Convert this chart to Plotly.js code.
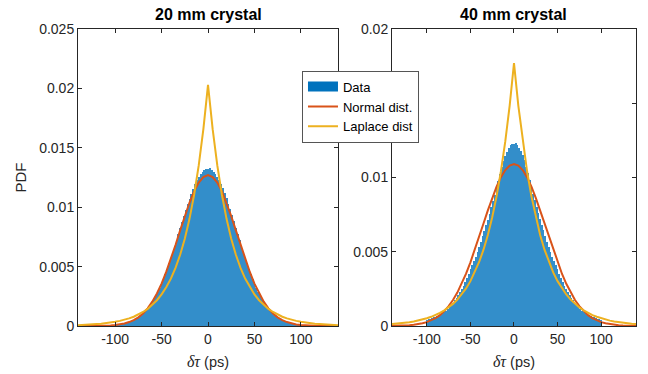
<!DOCTYPE html>
<html>
<head>
<meta charset="utf-8">
<script src="https://cdn.plot.ly/plotly-3.0.1.min.js"></script>
<style>html,body{margin:0;padding:0;background:#fff;}#chart{width:648px;height:374px;}</style>
</head>
<body>
<div id="chart"></div>
<script>
// ---------- data ----------
const panelTitles = ["20 mm crystal", "40 mm crystal"];
const legendNames = ["Data", "Normal dist.", "Laplace dist"];

// histogram bin centres (ps), 2 ps bins
const binCenters = [-100,-98,-96,-94,-92,-90,-88,-86,-84,-82,-80,-78,-76,-74,-72,-70,-68,-66,-64,-62,-60,-58,-56,-54,-52,-50,-48,-46,-44,-42,-40,-38,-36,-34,-32,-30,-28,-26,-24,-22,-20,-18,-16,-14,-12,-10,-8,-6,-4,-2,0,2,4,6,8,10,12,14,16,18,20,22,24,26,28,30,32,34,36,38,40,42,44,46,48,50,52,54,56,58,60,62,64,66,68,70,72,74,76,78,80,82,84,86,88,90,92,94,96,98,100];

const hist20 = [0.00007,0.00009,0.00011,0.00013,0.00016,0.00020,0.00023,0.00028,0.00034,0.00040,0.00047,0.00056,0.00065,0.00076,0.00089,0.00103,0.00119,0.00137,0.00157,0.00179,0.00203,0.00229,0.00258,0.00290,0.00323,0.00359,0.00398,0.00439,0.00482,0.00527,0.00574,0.00623,0.00673,0.00723,0.00775,0.00826,0.00878,0.00929,0.00978,0.01026,0.01072,0.01115,0.01155,0.01192,0.01225,0.01253,0.01279,0.01298,0.01312,0.01322,0.01318,0.01326,0.01312,0.01300,0.01281,0.01257,0.01228,0.01195,0.01158,0.01118,0.01075,0.01029,0.00981,0.00931,0.00880,0.00828,0.00777,0.00725,0.00674,0.00624,0.00575,0.00528,0.00483,0.00440,0.00399,0.00360,0.00324,0.00290,0.00259,0.00230,0.00204,0.00180,0.00158,0.00138,0.00120,0.00104,0.00090,0.00077,0.00066,0.00056,0.00047,0.00040,0.00034,0.00028,0.00023,0.00020,0.00016,0.00013,0.00011,0.00009,0.00007];

const hist40 = [0.00040,0.00044,0.00049,0.00053,0.00058,0.00063,0.00068,0.00073,0.00080,0.00087,0.00094,0.00104,0.00116,0.00128,0.00141,0.00157,0.00172,0.00189,0.00207,0.00229,0.00250,0.00272,0.00299,0.00325,0.00353,0.00382,0.00409,0.00438,0.00467,0.00500,0.00532,0.00569,0.00604,0.00643,0.00680,0.00717,0.00757,0.00799,0.00840,0.00883,0.00927,0.00975,0.01023,0.01068,0.01110,0.01145,0.01175,0.01199,0.01222,0.01228,0.01225,0.01230,0.01218,0.01200,0.01180,0.01150,0.01115,0.01074,0.01030,0.00983,0.00935,0.00890,0.00846,0.00804,0.00761,0.00720,0.00682,0.00644,0.00605,0.00569,0.00532,0.00500,0.00467,0.00438,0.00409,0.00382,0.00353,0.00325,0.00299,0.00272,0.00250,0.00229,0.00207,0.00189,0.00172,0.00157,0.00141,0.00128,0.00116,0.00104,0.00094,0.00087,0.00080,0.00073,0.00068,0.00063,0.00058,0.00053,0.00049,0.00044,0.00040];

// fitted curves sampled every 5 ps
const curveX = [-140,-135,-130,-125,-120,-115,-110,-105,-100,-95,-90,-85,-80,-75,-70,-65,-60,-55,-50,-45,-40,-35,-30,-25,-20,-15,-10,-5,0,5,10,15,20,25,30,35,40,45,50,55,60,65,70,75,80,85,90,95,100,105,110,115,120,125,130,135,140];

const normal20 = [0,0,0,0,0.00001,0.00002,0.00003,0.00005,0.00008,0.00013,0.00021,0.00033,0.00049,0.00073,0.00106,0.00149,0.00205,0.00274,0.00357,0.00455,0.00564,0.00682,0.00805,0.00925,0.01037,0.01133,0.01207,0.01254,0.01270,0.01254,0.01207,0.01133,0.01037,0.00925,0.00805,0.00682,0.00564,0.00455,0.00357,0.00274,0.00205,0.00149,0.00106,0.00073,0.00049,0.00033,0.00021,0.00013,0.00008,0.00005,0.00003,0.00002,0.00001,0,0,0,0];

const laplace20 = [0.00007,0.00008,0.00010,0.00013,0.00016,0.00019,0.00023,0.00028,0.00035,0.00043,0.00052,0.00064,0.00078,0.00096,0.00118,0.00144,0.00177,0.00217,0.00266,0.00326,0.00399,0.00489,0.00600,0.00735,0.00900,0.01103,0.01352,0.01657,0.02030,0.01657,0.01352,0.01103,0.00900,0.00735,0.00600,0.00489,0.00399,0.00326,0.00266,0.00217,0.00177,0.00144,0.00118,0.00096,0.00078,0.00064,0.00052,0.00043,0.00035,0.00028,0.00023,0.00019,0.00016,0.00013,0.00010,0.00008,0.00007];

const normal40 = [0.00001,0.00001,0.00002,0.00003,0.00005,0.00008,0.00012,0.00018,0.00026,0.00038,0.00053,0.00073,0.00100,0.00134,0.00175,0.00225,0.00284,0.00352,0.00429,0.00512,0.00600,0.00690,0.00779,0.00863,0.00939,0.01002,0.01050,0.01080,0.01090,0.01080,0.01050,0.01002,0.00939,0.00863,0.00779,0.00690,0.00600,0.00512,0.00429,0.00352,0.00284,0.00225,0.00175,0.00134,0.00100,0.00073,0.00053,0.00038,0.00026,0.00018,0.00012,0.00008,0.00005,0.00003,0.00002,0.00001,0.00001];

const laplace40 = [0.00013,0.00015,0.00018,0.00021,0.00025,0.00030,0.00036,0.00043,0.00052,0.00062,0.00073,0.00088,0.00105,0.00125,0.00149,0.00178,0.00212,0.00253,0.00302,0.00361,0.00431,0.00514,0.00613,0.00732,0.00873,0.01042,0.01243,0.01483,0.01770,0.01483,0.01243,0.01042,0.00873,0.00732,0.00613,0.00514,0.00431,0.00361,0.00302,0.00253,0.00212,0.00178,0.00149,0.00125,0.00105,0.00088,0.00073,0.00062,0.00052,0.00043,0.00036,0.00030,0.00025,0.00021,0.00018,0.00015,0.00013];

const xTickVals = [-100,-50,0,50,100];
const xTickText = ["-100","-50","0","50","100"];
const yTickVals20 = [0,0.005,0.01,0.015,0.02,0.025];
const yTickText20 = ["0","0.005","0.01","0.015","0.02","0.025"];
const yTickVals40 = [0,0.005,0.01,0.015,0.02];
const yTickText40 = ["0","0.005","0.01","","0.02"];   // 0.015 label is hidden behind the legend in the original

// ---------- styles ----------
const barColor = "rgb(51,142,202)";
const dataColor = "#0072BD";
const normColor = "#D95319";
const lapColor = "#EDB120";
const axisColor = "#262626";
const font = "Liberation Sans, Arial, Helvetica, sans-serif";
const xTitle = "<span style=\"font-family:'Liberation Serif',serif;font-size:16px\"><i>δτ</i></span> (ps)";

function histTrace(y, xa, ya) {
  return {type: "bar", x: binCenters, y: y, width: 2, xaxis: xa, yaxis: ya,
    marker: {color: barColor, line: {width: 0}}, showlegend: false, hoverinfo: "skip"};
}
function lineTrace(y, color, name, xa, ya, show) {
  return {type: "scatter", mode: "lines", x: curveX, y: y, xaxis: xa, yaxis: ya,
    line: {color: color, width: 2}, name: name, showlegend: show};
}

const traces = [
  histTrace(hist20, "x", "y"),
  lineTrace(normal20, normColor, legendNames[1], "x", "y", false),
  lineTrace(laplace20, lapColor, legendNames[2], "x", "y", false),
  histTrace(hist40, "x2", "y2"),
  lineTrace(normal40, normColor, legendNames[1], "x2", "y2", false),
  lineTrace(laplace40, lapColor, legendNames[2], "x2", "y2", false),
  // legend entries
  {type: "scatter", mode: "lines", x: [null], y: [null], xaxis: "x", yaxis: "y",
    line: {color: dataColor, width: 13}, name: legendNames[0], showlegend: true},
  {type: "scatter", mode: "lines", x: [null], y: [null], xaxis: "x", yaxis: "y",
    line: {color: normColor, width: 2}, name: legendNames[1], showlegend: true},
  {type: "scatter", mode: "lines", x: [null], y: [null], xaxis: "x", yaxis: "y",
    line: {color: lapColor, width: 2}, name: legendNames[2], showlegend: true}
];

function xAxis(domain, anchor) {
  return {domain: domain, anchor: anchor, range: [-140, 140], tickmode: "array",
    tickvals: xTickVals, ticktext: xTickText, ticks: "inside", ticklen: 4, tickcolor: axisColor,
    showline: true, linecolor: axisColor, linewidth: 1, mirror: "ticks", showgrid: false, zeroline: false,
    tickfont: {size: 14, color: axisColor, family: font},
    title: {text: xTitle, font: {size: 14.5, color: axisColor, family: font}, standoff: 11}};
}
function yAxis(range, vals, text, anchor, title) {
  return {domain: [0, 1], anchor: anchor, range: range, tickmode: "array",
    tickvals: vals, ticktext: text, ticks: "inside", ticklen: 4, tickcolor: axisColor,
    showline: true, linecolor: axisColor, linewidth: 1, mirror: "ticks", showgrid: false, zeroline: false,
    tickfont: {size: 14, color: axisColor, family: font},
    title: {text: title, font: {size: 15, color: axisColor, family: font}, standoff: 8}};
}

const layout = {
  width: 648, height: 374,
  margin: {l: 78, r: 12, t: 29, b: 48},
  paper_bgcolor: "#fff", plot_bgcolor: "#fff",
  font: {family: font, color: axisColor},
  bargap: 0,
  xaxis: xAxis([0, 0.466], "y"),
  yaxis: yAxis([0, 0.025], yTickVals20, yTickText20, "x", "PDF"),
  xaxis2: xAxis([0.5627, 1], "y2"),
  yaxis2: yAxis([0, 0.02], yTickVals40, yTickText40, "x2", ""),
  showlegend: true,
  legend: {x: 0.4014, y: 0.86, xanchor: "left", yanchor: "top",
    bgcolor: "#fff", bordercolor: "#555", borderwidth: 1,
    font: {size: 13, color: "#000", family: font}, itemwidth: 30,
    tracegroupgap: 0},
  annotations: [
    {text: "<b>" + panelTitles[0] + "</b>", xref: "x domain", yref: "paper", x: 0.5, y: 1,
      xanchor: "center", yanchor: "bottom", yshift: 4, showarrow: false,
      font: {size: 16, color: "#000", family: font}},
    {text: "<b>" + panelTitles[1] + "</b>", xref: "x2 domain", yref: "paper", x: 0.5, y: 1,
      xanchor: "center", yanchor: "bottom", yshift: 4, showarrow: false,
      font: {size: 16, color: "#000", family: font}}
  ]
};

Plotly.newPlot("chart", traces, layout, {displayModeBar: false, staticPlot: true});
</script>
</body>
</html>
